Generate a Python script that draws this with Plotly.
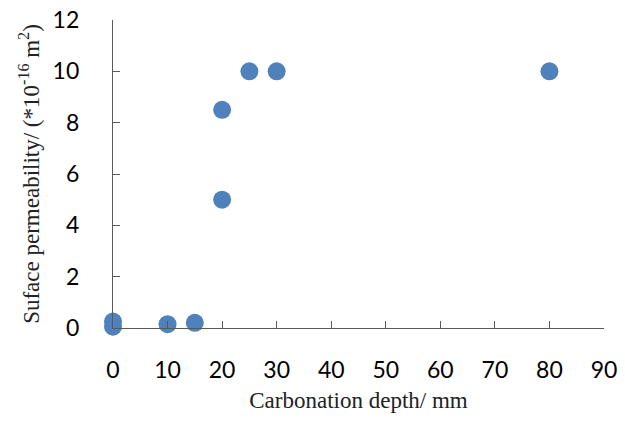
import plotly.graph_objects as go

depth = [0, 0, 10, 15, 20, 20, 25, 30, 80]
perm = [0.25, 0.05, 0.15, 0.2, 5.0, 8.5, 10.0, 10.0, 10.0]

x_ticks = list(range(0, 91, 10))
y_ticks = list(range(0, 13, 2))

fig = go.Figure()
fig.add_trace(go.Scatter(
    x=depth, y=perm, mode="markers",
    marker=dict(size=18, color="#4F81BD"),
    cliponaxis=False, showlegend=False,
))

tickfont = dict(family="Lato, Open Sans, sans-serif", size=23, color="black")
titlefont = dict(family="Liberation Serif, Times New Roman, serif", size=23, color="#222")

fig.update_layout(
    width=625, height=427,
    margin=dict(l=113, r=21, t=20, b=99),
    paper_bgcolor="white", plot_bgcolor="white",
    xaxis=dict(
        range=[0, 90], tickvals=x_ticks, showgrid=False, zeroline=False,
        showline=True, linecolor="#595959", linewidth=1.2,
        ticks="inside", ticklen=7, tickcolor="#595959",
        tickfont=tickfont, ticklabelstandoff=21, automargin=False,
        ticklabeloverflow="allow",
        title=dict(text="Carbonation depth/ mm", font=titlefont, standoff=10),
    ),
    yaxis=dict(
        range=[0, 12], tickvals=y_ticks, showgrid=False, zeroline=False,
        showline=True, linecolor="#595959", linewidth=1.2,
        ticks="inside", ticklen=7, tickcolor="#595959",
        tickfont=tickfont, ticklabelstandoff=28, automargin=False,
        ticklabeloverflow="allow",
        title=dict(text="Suface permeability/ (*10<sup>-16</sup> m<sup>2</sup>)",
                   font=titlefont, standoff=6),
    ),
)

fig.write_html("out.html", config={"displayModeBar": False},
               post_script="document.body.style.margin='0';")
